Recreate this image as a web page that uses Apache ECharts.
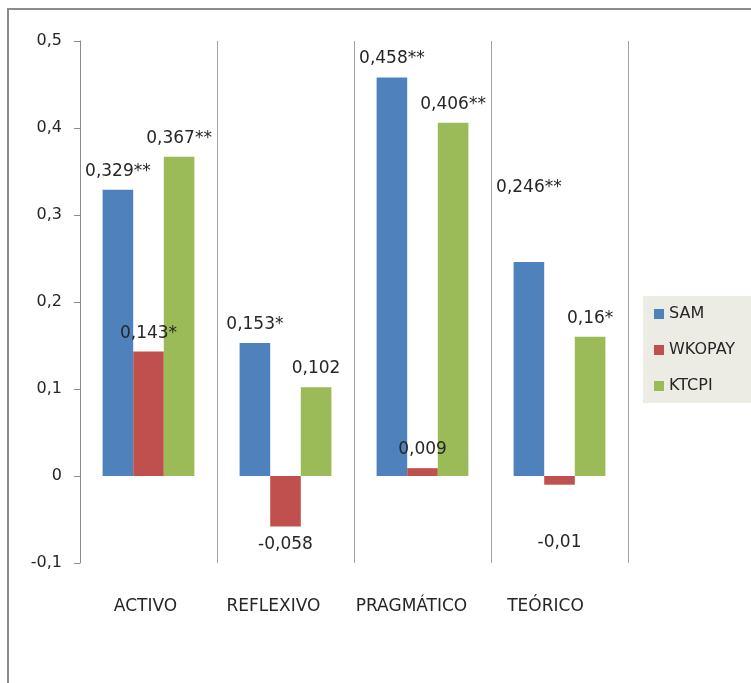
<!DOCTYPE html>
<html>
<head>
<meta charset="utf-8">
<script src="https://cdn.jsdelivr.net/npm/echarts@6/dist/echarts.min.js"></script>
<style>
  html, body { margin: 0; padding: 0; background: #ffffff; }
  #chart { width: 751px; height: 683px; }
</style>
</head>
<body>
<div id="chart"></div>
<script>
// Learning-style categories and correlation coefficients per scale
const categories = ['ACTIVO', 'REFLEXIVO', 'PRAGMÁTICO', 'TEÓRICO'];
const samValues = [0.329, 0.153, 0.458, 0.246];
const wkopayValues = [0.143, -0.058, 0.009, -0.01];
const ktcpiValues = [0.367, 0.102, 0.406, 0.16];

// Significance marks appended to each value label
const samStars = ['**', '*', '**', '**'];
const wkopayStars = ['*', '', '', ''];
const ktcpiStars = ['**', '', '**', '*'];

const yTicks = { min: -0.1, max: 0.5, interval: 0.1 };

// Layout tweaks: leftward nudge (px) of each category caption
const captionNudge = [3, 12, 11, 14];

const FONT = 'DejaVu Sans';
const TEXT = '#262626';

function decimalComma(v) {
  return String(+v.toFixed(3)).replace('.', ',');
}

function barData(values, stars, shifts) {
  return values.map((v, i) => {
    const item = {
      value: v,
      label: {
        show: true,
        position: v < 0 ? 'bottom' : 'top',
        distance: 10,
        formatter: decimalComma(v) + stars[i]
      }
    };
    if (shifts && shifts[i]) item.label.offset = [0, shifts[i]];
    return item;
  });
}

const chart = echarts.init(document.getElementById('chart'), null, { renderer: 'canvas' });

const labelStyle = { fontFamily: FONT, fontSize: 17, color: TEXT };

chart.setOption({
  animation: false,
  backgroundColor: '#ffffff',
  textStyle: { fontFamily: FONT },
  graphic: [
    {
      type: 'rect',
      shape: { x: 8, y: 9, width: 800, height: 800 },
      style: { fill: 'none', stroke: '#8c8c8c', lineWidth: 2 },
      z: -10
    },
    {
      type: 'rect',
      shape: { x: 643, y: 296, width: 120, height: 107 },
      style: { fill: '#ecebe4' },
      z: -5
    }
  ],
  grid: { left: 80, right: 123, top: 41, bottom: 120, containLabel: false },
  legend: {
    orient: 'vertical',
    left: 654,
    top: 305,
    padding: 0,
    itemGap: 18,
    itemWidth: 10,
    itemHeight: 10,
    icon: 'rect',
    textStyle: { fontFamily: FONT, fontSize: 16, color: TEXT, lineHeight: 18 },
    data: ['SAM', 'WKOPAY', 'KTCPI']
  },
  xAxis: {
    type: 'category',
    data: categories.map((c, i) => ({
      value: c,
      textStyle: { padding: [0, captionNudge[i] * 2, 0, 0] }
    })),
    axisLine: { show: false },
    axisTick: { show: false },
    axisLabel: { interval: 0, margin: 35, fontFamily: FONT, fontSize: 17, color: TEXT },
    splitLine: { show: true, interval: 0, lineStyle: { color: '#a3a3a3', width: 1 } }
  },
  yAxis: {
    type: 'value',
    min: yTicks.min,
    max: yTicks.max,
    interval: yTicks.interval,
    axisLine: { show: true, lineStyle: { color: '#8c8c8c' } },
    axisTick: { show: true, length: 6, lineStyle: { color: '#8c8c8c' } },
    axisLabel: {
      margin: 18,
      fontFamily: FONT,
      fontSize: 16,
      color: TEXT,
      formatter: v => decimalComma(v)
    },
    splitLine: { show: false }
  },
  series: [
    {
      name: 'SAM',
      type: 'bar',
      barGap: 0,
      barCategoryGap: '33%',
      itemStyle: { color: '#4f81bd' },
      label: labelStyle,
      data: barData(samValues, samStars, [0, 0, 0, -56])
    },
    {
      name: 'WKOPAY',
      type: 'bar',
      barGap: 0,
      barCategoryGap: '33%',
      itemStyle: { color: '#c0504d' },
      label: labelStyle,
      data: barData(wkopayValues, wkopayStars, [0, 0, 0, 39])
    },
    {
      name: 'KTCPI',
      type: 'bar',
      barGap: 0,
      barCategoryGap: '33%',
      itemStyle: { color: '#9bbb59' },
      label: labelStyle,
      data: barData(ktcpiValues, ktcpiStars)
    }
  ]
});
</script>
</body>
</html>
